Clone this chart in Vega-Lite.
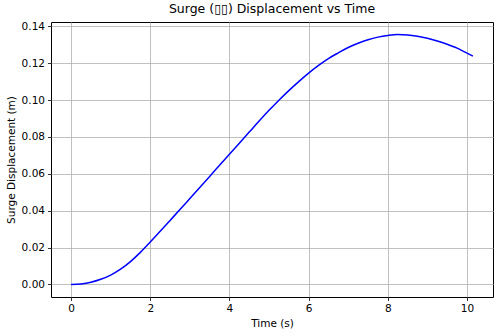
{
  "$schema": "https://vega.github.io/schema/vega-lite/v6.json",
  "width": 442,
  "height": 275,
  "autosize": "none",
  "padding": {"left": 51, "top": 22, "right": 7, "bottom": 39},
  "background": "white",
  "title": {"text": "Surge (▯▯) Displacement vs Time", "font": "DejaVu Sans", "fontSize": 12.5, "fontWeight": "normal", "color": "black", "offset": 6},
  "config": {
    "view": {"stroke": "black", "strokeWidth": 1},
    "axis": {
      "domain": false,
      "grid": true,
      "gridColor": "#b0b0b0",
      "gridWidth": 0.8,
      "tickColor": "black",
      "tickSize": 3.5,
      "tickWidth": 0.8,
      "labelFont": "DejaVu Sans",
      "labelFontSize": 10.5,
      "labelColor": "black",
      "labelPadding": 3,
      "titleFont": "DejaVu Sans",
      "titleFontSize": 10.5,
      "titleFontWeight": "normal",
      "titleColor": "black"
    }
  },
  "data": {"values": [
    {"t": 0, "s": 0},
    {"t": 0.25, "s": 0.0003},
    {"t": 0.5, "s": 0.0012},
    {"t": 0.75, "s": 0.0028},
    {"t": 1.0, "s": 0.0051},
    {"t": 1.25, "s": 0.0083},
    {"t": 1.5, "s": 0.0124},
    {"t": 1.75, "s": 0.0174},
    {"t": 2.0, "s": 0.023},
    {"t": 2.25, "s": 0.0288},
    {"t": 2.5, "s": 0.0347},
    {"t": 2.75, "s": 0.0406},
    {"t": 3.0, "s": 0.0466},
    {"t": 3.25, "s": 0.0526},
    {"t": 3.5, "s": 0.0586},
    {"t": 3.75, "s": 0.0646},
    {"t": 4.0, "s": 0.0706},
    {"t": 4.25, "s": 0.0766},
    {"t": 4.5, "s": 0.0826},
    {"t": 4.75, "s": 0.0886},
    {"t": 5.0, "s": 0.0944},
    {"t": 5.25, "s": 0.0999},
    {"t": 5.5, "s": 0.1051},
    {"t": 5.75, "s": 0.11},
    {"t": 6.0, "s": 0.1146},
    {"t": 6.25, "s": 0.1188},
    {"t": 6.5, "s": 0.1225},
    {"t": 6.75, "s": 0.1256},
    {"t": 7.0, "s": 0.1285},
    {"t": 7.25, "s": 0.1308},
    {"t": 7.5, "s": 0.1327},
    {"t": 7.75, "s": 0.1341},
    {"t": 8.0, "s": 0.135},
    {"t": 8.25, "s": 0.1355},
    {"t": 8.5, "s": 0.1353},
    {"t": 8.75, "s": 0.1346},
    {"t": 9.0, "s": 0.1335},
    {"t": 9.25, "s": 0.132},
    {"t": 9.5, "s": 0.1302},
    {"t": 9.75, "s": 0.1281},
    {"t": 10.0, "s": 0.1254},
    {"t": 10.15, "s": 0.1238}
  ]},
  "mark": {"type": "line", "color": "#0000ff", "strokeWidth": 1.5, "clip": true, "interpolate": "monotone"},
  "encoding": {
    "x": {"field": "t", "type": "quantitative", "title": "Time (s)",
      "scale": {"domain": [-0.5075, 10.6575], "nice": false, "zero": false},
      "axis": {"values": [0, 2, 4, 6, 8, 10], "titlePadding": 4}},
    "y": {"field": "s", "type": "quantitative", "title": "Surge Displacement (m)",
      "scale": {"domain": [-0.0068, 0.1423], "nice": false, "zero": false},
      "axis": {"values": [0, 0.02, 0.04, 0.06, 0.08, 0.1, 0.12, 0.14], "format": ".2f", "titlePadding": 5}}
  }
}
